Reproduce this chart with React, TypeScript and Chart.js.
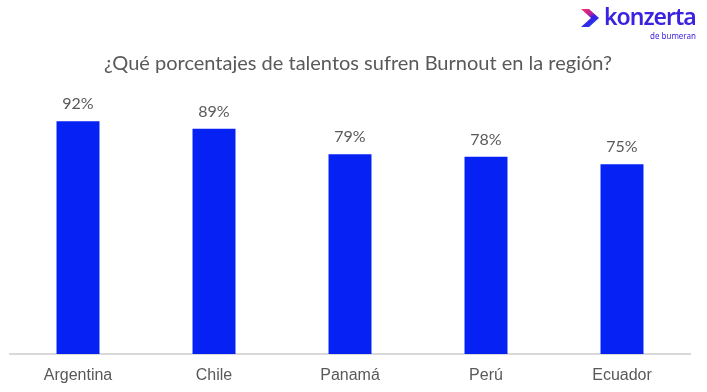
import React, { useEffect, useRef } from "react";
import { Chart, registerables } from "chart.js";

Chart.register(...registerables);

const categories = ["Argentina", "Chile", "Panamá", "Perú", "Ecuador"];
const values = [92, 89, 79, 78, 75];
const titleText = "¿Qué porcentajes de talentos sufren Burnout en la región?";

const valueLabels = {
  id: "valueLabels",
  afterDatasetsDraw(chart: any) {
    const ctx = chart.ctx;
    const meta = chart.getDatasetMeta(0);
    ctx.save();
    ctx.font = "16px Lato";
    ctx.fillStyle = "#595959";
    ctx.textAlign = "center";
    ctx.textBaseline = "alphabetic";
    meta.data.forEach((bar: any, i: number) => {
      ctx.fillText(values[i] + "%", bar.x, bar.y - 12);
    });
    ctx.restore();
  },
};

export default function App() {
  const ref = useRef<HTMLCanvasElement>(null);
  useEffect(() => {
    document.body.style.margin = "0";
    const chart = new Chart(ref.current!, {
      type: "bar",
      data: {
        labels: categories,
        datasets: [
          {
            data: values,
            backgroundColor: "#0621F4",
            borderWidth: 0,
            barPercentage: 0.316,
            categoryPercentage: 1,
          },
        ],
      },
      options: {
        responsive: false,
        animation: false,
        layout: { padding: { left: 10, right: 17, top: 101, bottom: 0 } },
        plugins: {
          legend: { display: false },
          tooltip: { enabled: false },
          title: { display: false },
        },
        scales: {
          x: {
            grid: { display: false, drawTicks: false },
            border: { display: true, color: "#d9d9d9", width: 2 },
            ticks: {
              color: "#595959",
              font: { family: "Liberation Sans", size: 16 },
              padding: 12,
            },
            afterFit: (scale: any) => {
              scale.height = 38;
            },
          },
          y: {
            display: false,
            min: 0,
            max: 100,
          },
        },
      },
      plugins: [valueLabels],
    });
    return () => chart.destroy();
  }, []);

  return (
    <div style={{ position: "relative", width: 707, height: 392, background: "#fff" }}>
      <canvas ref={ref} width={707} height={392} style={{ display: "block" }} />
      <div
        style={{
          position: "absolute",
          left: 0,
          width: 716,
          top: 48,
          textAlign: "center",
          fontFamily: "Lato",
          fontSize: 20,
          color: "#595959",
          lineHeight: "28px",
          whiteSpace: "nowrap",
        }}
      >
        {titleText}
      </div>
      <svg
        width={18}
        height={18}
        viewBox="0 0 18 18"
        style={{ position: "absolute", left: 581, top: 9 }}
      >
        <defs>
          <linearGradient id="kg" x1="0" y1="0" x2="0.6" y2="1">
            <stop offset="0" stopColor="#ff2d6e" />
            <stop offset="0.45" stopColor="#b0239a" />
            <stop offset="0.6" stopColor="#3b1fe6" />
            <stop offset="1" stopColor="#1f3bf0" />
          </linearGradient>
        </defs>
        <polygon points="0,0 8,0 18,9 8,18 0,18 10,9" fill="url(#kg)" />
      </svg>
      <div
        style={{
          position: "absolute",
          left: 604,
          top: 1,
          fontFamily: "Noto Sans",
          fontWeight: 600,
          fontSize: 23,
          color: "#3a22e0",
          letterSpacing: -1,
          lineHeight: "30px",
        }}
      >
        konzerta
      </div>
      <div
        style={{
          position: "absolute",
          left: 650,
          top: 31,
          fontFamily: "Noto Sans",
          fontSize: 8,
          color: "#3a22e0",
          lineHeight: "10px",
        }}
      >
        de bumeran
      </div>
    </div>
  );
}
